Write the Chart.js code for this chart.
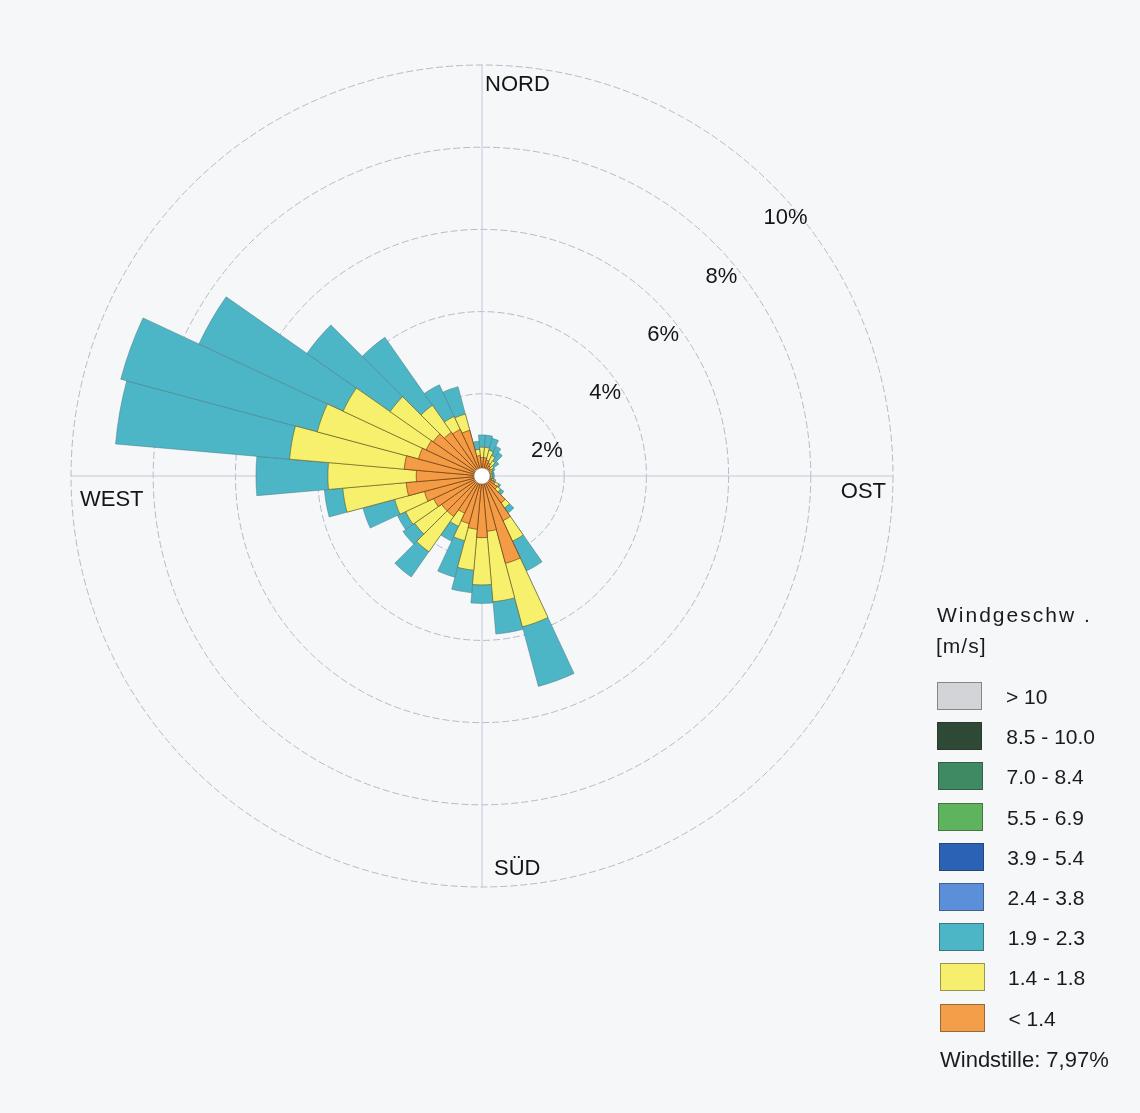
<!DOCTYPE html>
<html>
<head>
<meta charset="utf-8">
<script src="https://cdn.jsdelivr.net/npm/chart.js@4/dist/chart.umd.min.js"></script>
<style>
html,body{margin:0;padding:0;background:#f6f7f9;}
#wrap{position:relative;width:1140px;height:1113px;overflow:hidden;}
#rose{position:absolute;left:0;top:0;}
.lg{position:absolute;font-family:'Liberation Sans',Arial,sans-serif;color:#1b1b1b;white-space:pre;}
.box{position:absolute;width:45px;height:28px;box-sizing:border-box;border:1px solid rgba(40,40,40,0.45);}
</style>
</head>
<body>
<div id="wrap">
<canvas id="rose" width="1140" height="1113"></canvas>
</div>
<script>
// ---- data (percent of time per 10° sector, per speed class) ----
const directions = ['0','10','20','30','40','50','60','70','80','90','100','110',
  '120','130','140','150','160','170','180','190','200','210','220','230',
  '240','250','260','270','280','290','300','310','320','330','340','350'];
// < 1.4 m/s
const speedLow  = [0.45,0.45,0.40,0.35,0.30,0.25,0.20,0.20,0.20,0.20,0.20,0.25,
  0.35,0.45,0.80,1.20,2.20,1.35,1.50,1.30,1.20,1.00,1.20,1.20,
  1.30,1.45,1.85,1.60,1.90,1.60,1.50,1.45,1.30,1.25,1.15,0.50];
// 1.4 - 1.8 m/s
const speedMid  = [0.25,0.25,0.25,0.20,0.15,0.10,0.08,0.05,0.05,0.05,0.05,0.05,
  0.10,0.10,0.15,0.55,1.60,1.72,1.15,1.00,0.43,0.35,1.05,0.80,
  0.75,0.75,1.55,2.15,2.80,2.55,2.23,1.28,0.80,0.35,0.41,0.15];
// 1.9 - 2.3 m/s
const speedHigh = [0.30,0.30,0.30,0.25,0.25,0.15,0.07,0.05,0.05,0.05,0.05,0.05,
  0.05,0.10,0.15,0.80,1.50,0.79,0.45,0.55,0.92,0.40,0.75,0.35,
  0.22,0.80,0.45,1.75,4.25,4.95,3.87,2.47,2.02,0.85,0.69,0.20];
const tickValues = [2,4,6,8,10];
const tickLabels = ['2%','4%','6%','8%','10%'];
const compassLabels = ['NORD','OST','SÜD','WEST'];
const legendTitle = ['Windgeschw .','[m/s]'];
const legendLabels = ['> 10','8.5 - 10.0','7.0 - 8.4','5.5 - 6.9','3.9 - 5.4','2.4 - 3.8','1.9 - 2.3','1.4 - 1.8','< 1.4'];
const legendColors = ['#d3d4d8','#2f4a34','#3f8a62','#5db45d','#2b62b5','#5b8fd9','#4db6c6','#f6ef6e','#f39f4a'];
const calmText = 'Windstille: 7,97%';

// ---- styling ----
const FONT = "'Liberation Sans', Arial, sans-serif";
const colLow = '#f39c45', colMid = '#f7f06c', colHigh = '#4db6c6';

// cumulative stacks (outer radius of each class)
const cumLow = speedLow.slice();
const cumMid = speedLow.map((v,i)=>v+speedMid[i]);
const cumHigh = cumMid.map((v,i)=>v+speedHigh[i]);

const roseDecor = {
  id:'roseDecor',
  beforeDatasetsDraw(chart){
    const s = chart.scales.r, ctx = chart.ctx;
    const R = s.drawingArea, cx = s.xCenter, cy = s.yCenter;
    ctx.save();
    ctx.strokeStyle = '#c2c9d6';
    ctx.lineWidth = 1;
    ctx.beginPath();
    ctx.moveTo(cx, cy-R); ctx.lineTo(cx, cy+R);
    ctx.moveTo(cx-R, cy); ctx.lineTo(cx+R, cy);
    ctx.stroke();
    ctx.restore();
  },
  afterDatasetsDraw(chart){
    const s = chart.scales.r, ctx = chart.ctx;
    ctx.save();
    ctx.fillStyle = '#ffffff';
    ctx.strokeStyle = 'rgba(120,110,100,0.4)';
    ctx.lineWidth = 1;
    ctx.beginPath();
    ctx.arc(s.xCenter, s.yCenter, 8, 0, Math.PI*2);
    ctx.fill(); ctx.stroke();
    ctx.restore();
  },
  afterDraw(chart){
    const s = chart.scales.r, ctx = chart.ctx;
    const R = s.drawingArea, cx = s.xCenter, cy = s.yCenter;
    ctx.save();
    ctx.fillStyle = '#151515';
    ctx.font = '22px ' + FONT;
    ctx.textBaseline = 'middle';
    ctx.textAlign = 'left';
    tickValues.forEach((v,i)=>{
      const r = s.getDistanceFromCenterForValue(v);
      ctx.fillText(tickLabels[i], cx + r*Math.SQRT1_2 - 9, cy - r*Math.SQRT1_2 + 33);
    });
    ctx.fillText(compassLabels[0], cx + 3, cy - R + 20);
    ctx.fillText(compassLabels[2], cx + 12, cy + R - 18);
    ctx.fillText(compassLabels[3], cx - R + 9, cy + 24);
    ctx.textAlign = 'right';
    ctx.fillText(compassLabels[1], cx + R - 7, cy + 16);
    ctx.restore();
  }
};

new Chart(document.getElementById('rose'), {
  type:'polarArea',
  data:{
    labels: directions,
    datasets:[
      {label: legendLabels[8], data: cumLow,  backgroundColor: colLow,  borderColor:'rgba(110,60,20,0.75)', borderWidth:0.9},
      {label: legendLabels[7], data: cumMid,  backgroundColor: colMid,  borderColor:'rgba(90,85,30,0.65)',  borderWidth:0.9},
      {label: legendLabels[6], data: cumHigh, backgroundColor: colHigh, borderColor:'rgba(70,110,120,0.5)', borderWidth:0.9}
    ]
  },
  options:{
    responsive:false,
    animation:false,
    layout:{padding:{left:71, top:65, right:247, bottom:226}},
    plugins:{legend:{display:false}, tooltip:{enabled:false}},
    scales:{
      r:{
        min:0, max:10, startAngle:-5,
        ticks:{display:false, stepSize:2},
        grid:{circular:true, color:'#b5bac6', lineWidth:1},
        border:{dash:[7,3]},
        angleLines:{display:false},
        pointLabels:{display:false}
      }
    }
  },
  plugins:[roseDecor]
});

// ---- legend (HTML text) ----
const wrap = document.getElementById('wrap');
function addText(txt, left, top, size, extra){
  const d = document.createElement('div');
  d.className = 'lg';
  d.textContent = txt;
  d.style.left = left + 'px';
  d.style.top = top + 'px';
  d.style.fontSize = size + 'px';
  d.style.lineHeight = size + 'px';
  if (extra) Object.assign(d.style, extra);
  wrap.appendChild(d);
}
addText(legendTitle[0], 937, 604, 21, {letterSpacing:'2px'});
addText(legendTitle[1], 936, 635, 21, {letterSpacing:'1px'});
legendLabels.forEach((lab,i)=>{
  const top = 682 + 40.2*i;
  const b = document.createElement('div');
  b.className = 'box';
  b.style.left = (937 + i*0.4) + 'px';
  b.style.top = top + 'px';
  b.style.background = legendColors[i];
  wrap.appendChild(b);
  addText(lab, 1006 + i*0.3, top + 4, 21);
});
addText(calmText, 940, 1049, 22);
</script>
</body>
</html>
